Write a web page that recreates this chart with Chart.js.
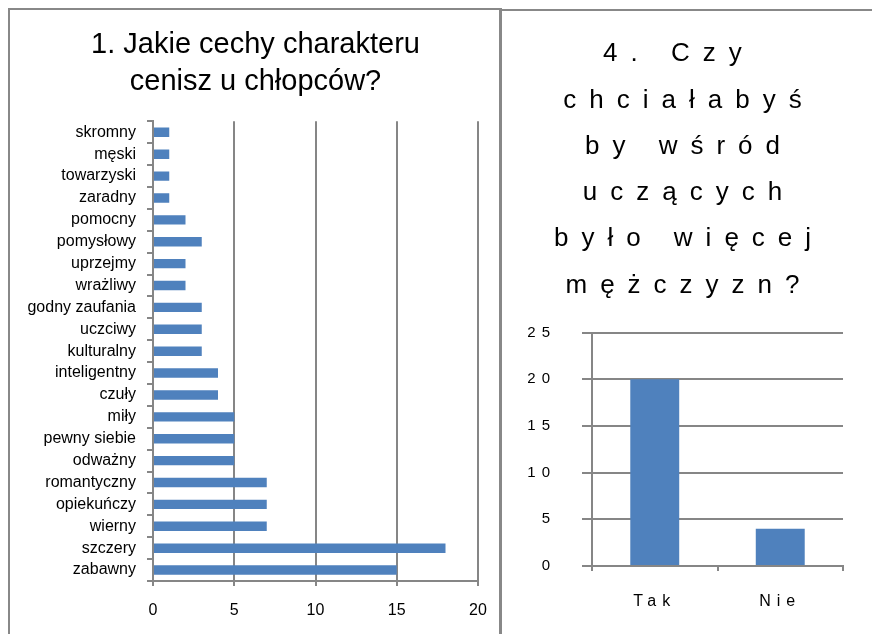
<!DOCTYPE html>
<html>
<head>
<meta charset="utf-8">
<script src="https://cdn.jsdelivr.net/npm/chart.js@4"></script>
<style>
  body { margin: 0; background: #fff; }
  #wrap { position: relative; width: 872px; height: 634px; overflow: hidden; }
  .frame { position: absolute; border-color: #888; border-style: solid; }
  canvas { position: absolute; }
</style>
</head>
<body>
<div id="wrap">
  <div class="frame" style="left:8px;top:8px;width:489px;height:640px;border-width:2px 3px 0 2px;"></div>
  <div class="frame" style="left:502px;top:9px;width:380px;height:640px;border-width:2px 0 0 0;"></div>
  <canvas id="traits" width="487" height="623" style="left:11px;top:11px"></canvas>
  <canvas id="men" width="369" height="622" style="left:503px;top:12px"></canvas>
</div>
<script>
// 1. Jakie cechy charakteru cenisz u chłopców?
const traitLabels = ['skromny', 'męski', 'towarzyski', 'zaradny', 'pomocny', 'pomysłowy', 'uprzejmy',
  'wrażliwy', 'godny zaufania', 'uczciwy', 'kulturalny', 'inteligentny', 'czuły', 'miły',
  'pewny siebie', 'odważny', 'romantyczny', 'opiekuńczy', 'wierny', 'szczery', 'zabawny'];
const traitValues = [1, 1, 1, 1, 2, 3, 2, 2, 3, 3, 3, 4, 4, 5, 5, 5, 7, 7, 7, 18, 15];

// 4. Czy chciałabyś by wśród uczących było więcej mężczyzn?
const answerLabels = ['Tak', 'Nie'];
const answerValues = [20, 4];

const blue = '#4F81BD';
const gray = '#868686';
const font = "'Liberation Sans', Arial, sans-serif";

Chart.defaults.font.family = font;
Chart.defaults.color = '#000';

// the titles in the original sit a bit right of the canvas centre
const titleShift = {
  id: 'titleShift',
  afterLayout(chart, args, opts) {
    const t = chart.titleBlock;
    if (t) { t.left += opts.dx; t.right += opts.dx; }
  }
};

new Chart(document.getElementById('traits'), {
  type: 'bar',
  data: {
    labels: traitLabels,
    datasets: [{ data: traitValues, backgroundColor: blue, barPercentage: 0.43, categoryPercentage: 1 }]
  },
  plugins: [titleShift],
  options: {
    indexAxis: 'y',
    responsive: false,
    animation: false,
    layout: { padding: { left: 0, right: 20, top: 0, bottom: 0 } },
    plugins: {
      legend: { display: false },
      tooltip: { enabled: false },
      titleShift: { dx: 11 },
      title: {
        display: true,
        text: ['1. Jakie cechy charakteru', 'cenisz u chłopców?'],
        color: '#000',
        font: { size: 29, weight: 'normal', lineHeight: 1.265 },
        padding: { top: 16, bottom: 21 }
      }
    },
    scales: {
      x: {
        min: 0, max: 20,
        ticks: { stepSize: 5, font: { size: 16 }, padding: 15 },
        grid: { color: gray, lineWidth: 2, tickLength: 5 },
        border: { color: gray, width: 2 },
        afterFit: s => { s.height = 53; s.paddingLeft = 0; s.paddingRight = 0; }
      },
      y: {
        ticks: { font: { size: 16 }, padding: 11, autoSkip: false },
        grid: { drawOnChartArea: false, color: gray, lineWidth: 2, tickLength: 6, offset: true },
        border: { color: gray, width: 2 },
        afterFit: s => { s.width = 142; s.paddingTop = 0; s.paddingBottom = 0; }
      }
    }
  }
});

// letter spacing like the original: wide for the title, smaller for the tick labels
const spacing = {
  id: 'spacing',
  beforeDraw(chart) { chart.ctx.letterSpacing = '13px'; },
  beforeDatasetsDraw(chart) { chart.ctx.letterSpacing = '6px'; },
  afterDraw(chart) { chart.ctx.letterSpacing = '0px'; }
};

new Chart(document.getElementById('men'), {
  type: 'bar',
  data: {
    labels: answerLabels,
    datasets: [{ data: answerValues, backgroundColor: blue, barPercentage: 0.39, categoryPercentage: 1 }]
  },
  plugins: [spacing, titleShift],
  options: {
    responsive: false,
    animation: false,
    layout: { padding: { left: 0, right: 29, top: 0, bottom: 0 } },
    plugins: {
      legend: { display: false },
      tooltip: { enabled: false },
      titleShift: { dx: 16 },
      title: {
        display: true,
        text: ['4. Czy ', 'chciałabyś', 'by wśród', 'uczących', 'było więcej', 'mężczyzn?'],
        color: '#000',
        font: { size: 26, weight: 'normal', lineHeight: 1.78 },
        padding: { top: 19, bottom: 24 }
      }
    },
    scales: {
      x: {
        ticks: { font: { size: 16 }, padding: 21, z: 1 },
        grid: { drawOnChartArea: false, color: gray, lineWidth: 2, tickLength: 5, offset: true },
        border: { color: gray, width: 2 },
        afterFit: s => { s.height = 68; s.paddingLeft = 0; s.paddingRight = 0; }
      },
      y: {
        min: 0, max: 25,
        ticks: { stepSize: 5, font: { size: 15 }, padding: 26, z: 1 },
        grid: { color: gray, lineWidth: 2, tickLength: 10 },
        border: { color: gray, width: 2 },
        afterFit: s => { s.width = 89; s.paddingTop = 0; s.paddingBottom = 0; }
      }
    }
  }
});
</script>
</body>
</html>
